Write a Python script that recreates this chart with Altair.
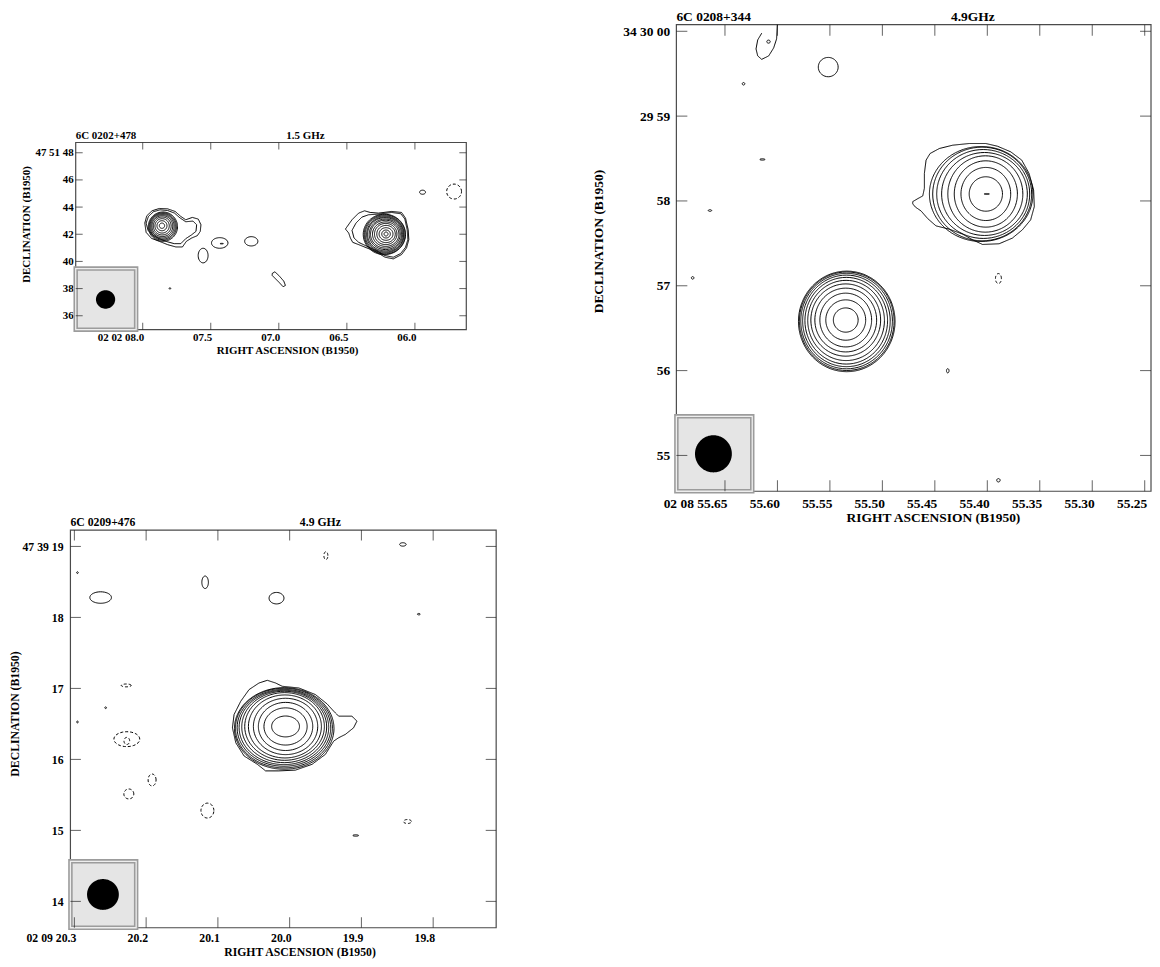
import math
import numpy as np
import pandas as pd
import altair as alt

FONT = "Liberation Serif"

# ======================= DATA =======================
# ---- Panel 1 : 6C 0202+478, 1.5 GHz  (RA = 02 02 ss.s, Dec = 47 51 ss) ----
P1_NAME, P1_FREQ = "6C 0202+478", "1.5 GHz"
P1_DEC0 = 47 + 51 / 60 + 42 / 3600
P1_RA_LIM = [5.6225, 8.4923]
P1_DEC_LIM = [34.974, 48.755]
P1_XTICKS = [8.0, 7.5, 7.0, 6.5, 6.0]
P1_XLABELS = ["02 02 08.0", "07.5", "07.0", "06.5", "06.0"]
P1_YTICKS = [36, 38, 40, 42, 44, 46, 48]
P1_YLABELS = ["36", "38", "40", "42", "44", "46", "47 51 48"]
P1_FREQ_RA = 6.8047

# eastern component
P1A_RA, P1A_DEC = 7.8585, 42.627
P1A_R = [0.195, 0.37, 0.53, 0.66, 0.77, 0.86, 0.94, 1.01, 1.08]
P1A_OX = [0, 0, 0.01, 0.02, 0.03, 0.04, 0.05, 0.06, 0.07]
P1A_OY = [0, 0, -0.01, -0.02, -0.03, -0.04, -0.05, -0.06, -0.07]
P1A_OUT1_DX = [-1.270, -1.123, -0.733, -0.195, 0.415, 0.977, 1.392, 1.758, 2.247, 2.686, 2.882,
               2.833, 2.613, 2.198, 1.807, 1.514, 1.026, 0.415, -0.195, -0.781, -1.172]
P1A_OUT1_DY = [0.195, 0.733, 1.099, 1.270, 1.245, 1.050, 0.684, 0.440, 0.611, 0.488, 0.073,
               -0.415, -0.733, -0.904, -1.148, -1.563, -1.563, -1.392, -1.148, -0.928, -0.488]
P1A_OUT2_DX = [-1.172, -1.001, -0.635, -0.147, 0.415, 0.928, 1.319, 1.758, 2.295, 2.564, 2.515,
               2.173, 1.758, 1.392, 0.904, 0.366, -0.195, -0.684, -1.026]
P1A_OUT2_DY = [0.195, 0.684, 1.026, 1.172, 1.123, 0.928, 0.586, 0.293, 0.342, 0.073, -0.415,
               -0.684, -0.952, -1.319, -1.319, -1.172, -0.952, -0.684, -0.342]
# western component
P1B_RA, P1B_DEC = 6.2122, 42.017
P1B_RX = [0.146, 0.317, 0.513, 0.684, 0.830, 0.977, 1.099, 1.197, 1.294, 1.368, 1.441, 1.514, 1.563]
P1B_RY = [0.146, 0.293, 0.464, 0.635, 0.781, 0.904, 1.026, 1.123, 1.221, 1.294, 1.368, 1.441, 1.490]
P1B_OX = [0, 0, 0, 0, -0.024, -0.024, -0.049, -0.049, -0.073, -0.073, -0.098, -0.098, -0.122]
P1B_OY = [0, 0, 0, 0, 0, -0.01, -0.01, -0.02, -0.02, -0.03, -0.03, -0.03, -0.03]
P1B_OUT1_DX = [-3.004, -2.515, -2.027, -1.587, -1.172, -0.562, 0.415, 1.148, 1.441, 1.636, 1.685,
               1.514, 1.148, 0.537, -0.073, -0.806, -1.416, -2.027, -2.466, -2.637, -2.759]
P1B_OUT1_DY = [0.366, 1.050, 1.538, 1.709, 1.587, 1.538, 1.661, 1.587, 1.172, 0.317, -0.415,
               -1.026, -1.514, -1.831, -1.709, -1.270, -1.026, -0.781, -0.611, -0.293, 0.073]
P1B_OUT2_DX = [-2.515, -2.222, -1.783, -1.294, -0.562, 0.415, 1.099, 1.392, 1.563, 1.612, 1.441,
               1.075, 0.537, -0.073, -0.757, -1.416, -2.027, -2.369]
P1B_OUT2_DY = [0.269, 0.806, 1.245, 1.416, 1.465, 1.587, 1.490, 1.099, 0.317, -0.415, -0.977,
               -1.441, -1.709, -1.587, -1.197, -0.904, -0.611, -0.293]
# knot
P1K_RA, P1K_DEC = 7.0, 38.672
P1K_DX = [-0.488, -0.293, 0.0, 0.366, 0.488, 0.317, 0.049, -0.293, -0.488]
P1K_DY = [0.440, 0.562, 0.293, -0.122, -0.440, -0.537, -0.244, 0.098, 0.293]
# small contours
P1_BLOB_RA = [7.5561, 7.4341, 7.4195, 7.2024, 7.8000, 5.9439, 5.7122]
P1_BLOB_DEC = [40.430, 41.358, 41.310, 41.480, 38.012, 45.094, 45.143]
P1_BLOB_RX = [0.366, 0.610, 0.12, 0.488, 0.06, 0.22, 0.55]
P1_BLOB_RY = [0.537, 0.391, 0.02, 0.342, 0.05, 0.15, 0.55]
P1_BLOB_DASH = ["solid", "solid", "solid", "solid", "solid", "solid", "dashed"]
# beam
P1_BOX = [8.0483, 8.4923, 34.974, 39.473]
P1_BEAM = [8.2729, 37.20, 0.71, 0.68]

# ---- Panel 2 : 6C 0208+344, 4.9 GHz  (RA = 02 08 ss.ss, Dec = 34 29 ss) ----
P2_NAME, P2_FREQ = "6C 0208+344", "4.9GHz"
P2_DEC0 = 34 + 29 / 60 + 58 / 3600
P2_RA_LIM = [55.2440, 55.6963]
P2_DEC_LIM = [54.5775, 60.0775]
P2_XTICKS = [55.65, 55.60, 55.55, 55.50, 55.45, 55.40, 55.35, 55.30, 55.25]
P2_XLABELS = ["02 08 55.65", "55.60", "55.55", "55.50", "55.45", "55.40", "55.35", "55.30", "55.25"]
P2_YTICKS = [55, 56, 57, 58, 59, 60]
P2_YLABELS = ["55", "56", "57", "58", "29 59", "34 30 00"]
P2_FREQ_RA = 55.4138

P2A_RA, P2A_DEC = 55.4014, 58.082
P2A_RX = [0.196, 0.293, 0.372, 0.442, 0.505, 0.548, 0.583, 0.610]
P2A_RY = [0.203, 0.313, 0.391, 0.450, 0.489, 0.524, 0.552, 0.560]
P2A_OX = [0, 0, 0, -0.006, -0.016, -0.031, -0.043, -0.055]
P2A_OY = [0, 0, 0, 0, 0, 0, 0, 0]
P2A_OUT_DX = [-0.861, -0.802, -0.743, -0.724, -0.724, -0.704, -0.657, -0.548, -0.391, -0.196, 0.0,
              0.137, 0.293, 0.423, 0.509, 0.563, 0.571, 0.528, 0.430, 0.313, 0.156, -0.039,
              -0.156, -0.274, -0.430, -0.587, -0.685, -0.763, -0.829, -0.861]
P2A_OUT_DY = [-0.090, -0.055, -0.023, 0.067, 0.243, 0.399, 0.477, 0.536, 0.575, 0.595, 0.595,
              0.563, 0.497, 0.399, 0.243, 0.047, -0.149, -0.305, -0.423, -0.520, -0.587, -0.595,
              -0.540, -0.473, -0.415, -0.376, -0.290, -0.200, -0.155, -0.117]
P2B_RA, P2B_DEC = 55.5349, 56.596
P2B_RX = [0.146, 0.235, 0.305, 0.364, 0.411, 0.452, 0.487, 0.516, 0.540, 0.558, 0.569]
P2B_RY = [0.143, 0.238, 0.317, 0.376, 0.426, 0.473, 0.511, 0.540, 0.563, 0.581, 0.593]
P2B_OX = [0, 0, 0, 0, 0, 0.004, 0.006, 0.008, 0.010, 0.012, 0.012]
P2B_OY = [0, 0, 0, 0, 0, -0.005, -0.008, -0.010, -0.012, -0.014, -0.016]
P2_ARC_RA = [55.6150, 55.6188, 55.6204, 55.6188, 55.6150, 55.6083, 55.6036, 55.6008, 55.6001]
P2_ARC_DEC = [59.977, 59.898, 59.792, 59.710, 59.669, 59.710, 59.804, 59.910, 60.077]
P2_BLOB_RA = [55.5516, 55.6085, 55.6323, 55.6143, 55.6643, 55.6808, 55.3894, 55.4377, 55.3894, 55.4005]
P2_BLOB_DEC = [59.578, 59.878, 59.381, 58.489, 57.887, 57.093, 57.085, 55.998, 54.707, 58.082]
P2_BLOB_RX = [0.117, 0.020, 0.015, 0.030, 0.020, 0.015, 0.035, 0.015, 0.020, 0.030]
P2_BLOB_RY = [0.114, 0.018, 0.015, 0.008, 0.010, 0.015, 0.059, 0.025, 0.020, 0.006]
P2_BLOB_DASH = ["solid"] * 6 + ["dashed"] + ["solid"] * 3
P2_BOX = [55.624, 55.6963, 54.5775, 55.461]
P2_BEAM = [55.661, 55.019, 0.217, 0.219]

# ---- Panel 3 : 6C 0209+476, 4.9 GHz  (RA = 02 09 ss.s, Dec = 47 39 ss) ----
P3_NAME, P3_FREQ = "6C 0209+476", "4.9 GHz"
P3_DEC0 = 47 + 39 / 60 + 16 / 3600
P3_RA_LIM = [19.7122, 20.3055]
P3_DEC_LIM = [13.6283, 19.230]
P3_XTICKS = [20.3, 20.2, 20.1, 20.0, 19.9, 19.8]
P3_XLABELS = ["02 09 20.3", "20.2", "20.1", "20.0", "19.9", "19.8"]
P3_YTICKS = [14, 15, 16, 17, 18, 19]
P3_YLABELS = ["14", "15", "16", "17", "18", "47 39 19"]
P3_FREQ_RA = 19.9572

P3A_RA, P3A_DEC = 20.0057, 16.464
P3A_RX = [0.196, 0.304, 0.383, 0.453, 0.514, 0.561, 0.598, 0.631, 0.659, 0.683, 0.701]
P3A_RY = [0.147, 0.262, 0.339, 0.397, 0.444, 0.477, 0.503, 0.524, 0.542, 0.561, 0.575]
P3A_OX = [0, 0, 0, 0, -0.009, -0.014, -0.019, -0.023, -0.023, -0.023, -0.019]
P3A_OY = [0, 0, 0, 0, 0, 0, -0.007, -0.014, -0.019, -0.023, -0.028]
P3A_OUT_DX = [-0.748, -0.725, -0.631, -0.514, -0.374, -0.257, -0.140, -0.047, 0.187, 0.421, 0.584,
              0.678, 0.748, 0.935, 1.005, 0.958, 0.842, 0.748, 0.678, 0.561, 0.374, 0.140, -0.094,
              -0.281, -0.397, -0.584, -0.701]
P3A_OUT_DY = [-0.019, 0.168, 0.355, 0.519, 0.612, 0.650, 0.612, 0.566, 0.542, 0.449, 0.318,
              0.215, 0.145, 0.145, 0.075, -0.019, -0.112, -0.159, -0.206, -0.393, -0.533, -0.615,
              -0.626, -0.626, -0.533, -0.416, -0.229]
P3_BLOB_RA = [20.2634, 20.1178, 20.0183, 19.8422, 19.9495, 20.2957, 20.2564, 20.2957, 19.8200,
              20.2277, 20.2269, 20.2269, 20.2241, 20.1917, 20.1146, 19.8358, 19.9079]
P3_BLOB_DEC = [18.280, 18.495, 18.271, 19.028, 18.870, 18.631, 16.728, 16.527, 18.046,
               17.042, 16.285, 16.260, 15.513, 15.710, 15.279, 15.125, 14.928]
P3_BLOB_RX = [0.152, 0.046, 0.105, 0.046, 0.028, 0.012, 0.012, 0.012, 0.020,
              0.070, 0.182, 0.040, 0.070, 0.056, 0.091, 0.056, 0.040]
P3_BLOB_RY = [0.081, 0.088, 0.081, 0.024, 0.056, 0.012, 0.012, 0.012, 0.010,
              0.020, 0.105, 0.050, 0.070, 0.084, 0.105, 0.028, 0.010]
P3_BLOB_DASH = ["solid"] * 4 + ["dashed"] + ["solid"] * 4 + ["dashed"] * 7 + ["solid"]
P3_BOX = [20.2139, 20.3055, 13.6283, 14.564]
P3_BEAM = [20.2602, 14.097, 0.224, 0.217]


# ======================= helpers to build mark tables =======================
def k_ra(dec0):
    # seconds of RA per arcsec of sky at this declination
    return 1.0 / (15.0 * math.cos(math.radians(dec0)))


def add_ring(rows, key, ra, dec, dec0, rx, ry, ox=0.0, oy=0.0, dash="solid", n=72):
    k = k_ra(dec0)
    for i in range(n + 1):
        t = 2 * math.pi * i / n
        rows.append({"ra": ra - (ox + rx * math.cos(t)) * k,
                     "dec": dec + oy + ry * math.sin(t),
                     "ring": key, "i": i, "dash": dash})


def add_poly(rows, key, ra, dec, dec0, dxs, dys, dash="solid"):
    k = k_ra(dec0)
    pts = list(zip(dxs, dys)) + [(dxs[0], dys[0])]
    for i, (dx, dy) in enumerate(pts):
        rows.append({"ra": ra - dx * k, "dec": dec + dy, "ring": key, "i": i, "dash": dash})


def add_path(rows, key, ras, decs, dash="solid"):
    for i, (r, d) in enumerate(zip(ras, decs)):
        rows.append({"ra": r, "dec": d, "ring": key, "i": i, "dash": dash})


def add_source(rows, key, ra, dec, dec0, rxs, rys, oxs, oys):
    for j, (rx, ry, ox, oy) in enumerate(zip(rxs, rys, oxs, oys)):
        add_ring(rows, f"{key}{j}", ra, dec, dec0, rx, ry, ox, oy)


def add_blobs(rows, key, dec0, ras, decs, rxs, rys, dashes):
    for j, (r, d, rx, ry, ds) in enumerate(zip(ras, decs, rxs, rys, dashes)):
        add_ring(rows, f"{key}{j}", r, d, dec0, rx, ry, dash=ds, n=36)


def beam_table(beam, dec0, n=60):
    ra, dec, rx, ry = beam
    k = k_ra(dec0)
    t = np.linspace(0, np.pi, n + 1)
    return pd.DataFrame({"ra": ra - rx * k * np.cos(t),
                         "lo": dec - ry * np.sin(t),
                         "hi": dec + ry * np.sin(t)})


def label_expr(values, labels):
    expr = "''"
    for v, lab in zip(values, labels):
        expr = f"abs(datum.value - {v}) < 1e-6 ? '{lab}' : ({expr})"
    return expr


# panel 1 contours
r1 = []
add_source(r1, "a", P1A_RA, P1A_DEC, P1_DEC0, P1A_R, P1A_R, P1A_OX, P1A_OY)
add_poly(r1, "ao1", P1A_RA, P1A_DEC, P1_DEC0, P1A_OUT1_DX, P1A_OUT1_DY)
add_poly(r1, "ao2", P1A_RA, P1A_DEC, P1_DEC0, P1A_OUT2_DX, P1A_OUT2_DY)
add_source(r1, "b", P1B_RA, P1B_DEC, P1_DEC0, P1B_RX, P1B_RY, P1B_OX, P1B_OY)
add_poly(r1, "bo1", P1B_RA, P1B_DEC, P1_DEC0, P1B_OUT1_DX, P1B_OUT1_DY)
add_poly(r1, "bo2", P1B_RA, P1B_DEC, P1_DEC0, P1B_OUT2_DX, P1B_OUT2_DY)
add_poly(r1, "k", P1K_RA, P1K_DEC, P1_DEC0, P1K_DX, P1K_DY)
add_blobs(r1, "s", P1_DEC0, P1_BLOB_RA, P1_BLOB_DEC, P1_BLOB_RX, P1_BLOB_RY, P1_BLOB_DASH)

# panel 2 contours
r2 = []
add_source(r2, "a", P2A_RA, P2A_DEC, P2_DEC0, P2A_RX, P2A_RY, P2A_OX, P2A_OY)
add_poly(r2, "ao", P2A_RA, P2A_DEC, P2_DEC0, P2A_OUT_DX, P2A_OUT_DY)
add_source(r2, "b", P2B_RA, P2B_DEC, P2_DEC0, P2B_RX, P2B_RY, P2B_OX, P2B_OY)
add_path(r2, "arc", P2_ARC_RA, P2_ARC_DEC)
add_blobs(r2, "s", P2_DEC0, P2_BLOB_RA, P2_BLOB_DEC, P2_BLOB_RX, P2_BLOB_RY, P2_BLOB_DASH)

# panel 3 contours
r3 = []
add_source(r3, "a", P3A_RA, P3A_DEC, P3_DEC0, P3A_RX, P3A_RY, P3A_OX, P3A_OY)
add_poly(r3, "ao", P3A_RA, P3A_DEC, P3_DEC0, P3A_OUT_DX, P3A_OUT_DY)
add_blobs(r3, "s", P3_DEC0, P3_BLOB_RA, P3_BLOB_DEC, P3_BLOB_RX, P3_BLOB_RY, P3_BLOB_DASH)

# ======================= layout / style (pixels) =======================
W, H = 1149, 948

PANELS = [
    dict(name=P1_NAME, freq=P1_FREQ, freq_ra=P1_FREQ_RA, ra_lim=P1_RA_LIM, dec_lim=P1_DEC_LIM,
         xt=P1_XTICKS, xl=P1_XLABELS, yt=P1_YTICKS, yl=P1_YLABELS, rows=r1, box=P1_BOX,
         beam=P1_BEAM, dec0=P1_DEC0,
         xrange=[460.3, 68.0], yrange=[319.0, 131.0], fs=11, tick=7,
         xoff=-629, yoff=-68, xlp=11.3, ylp=2.5, xlo=1.0,
         xtx=280.3, xty=23.8, ytx=-49.3, yty=212.8, tdy=-3.7),
    dict(name=P2_NAME, freq=P2_FREQ, freq_ra=P2_FREQ_RA, ra_lim=P2_RA_LIM, dec_lim=P2_DEC_LIM,
         xt=P2_XTICKS, xl=P2_XLABELS, yt=P2_YTICKS, yl=P2_YLABELS, rows=r2, box=P2_BOX,
         beam=P2_BEAM, dec0=P2_DEC0,
         xrange=[1148.0, 671.3], yrange=[481.3, 12.7], fs=13.5, tick=11,
         xoff=-466.7, yoff=-671.3, xlp=16.2, ylp=6.6, xlo=2.0,
         xtx=929.0, xty=30.5, ytx=-78.3, yty=230.0, tdy=-3.4),
    dict(name=P3_NAME, freq=P3_FREQ, freq_ra=P3_FREQ_RA, ra_lim=P3_RA_LIM, dec_lim=P3_DEC_LIM,
         xt=P3_XTICKS, xl=P3_XLABELS, yt=P3_YTICKS, yl=P3_YLABELS, rows=r3, box=P3_BOX,
         beam=P3_BEAM, dec0=P3_DEC0,
         xrange=[490.3, 62.7], yrange=[919.7, 520.3], fs=11.8, tick=10.5,
         xoff=-28.3, yoff=-62.7, xlp=14.0, ylp=7.4, xlo=1.5,
         xtx=292.8, xty=27.5, ytx=-55.7, yty=704.5, tdy=-4.3),
]

DASH_SCALE = alt.Scale(domain=["solid", "dashed"], range=[[1, 0], [3, 2]])


def build_panel(p):
    xs = alt.Scale(domain=p["ra_lim"], range=p["xrange"], zero=False, nice=False)
    ys = alt.Scale(domain=p["dec_lim"], range=p["yrange"], zero=False, nice=False)
    common = dict(ticks=False, tickSize=0, domain=False, grid=False,
                  labelFont=FONT, labelFontWeight="bold", labelFontSize=p["fs"], labelColor="black",
                  labelFlush=False, labelOverlap=False, labelBound=False,
                  titleFont=FONT, titleFontWeight="bold", titleFontSize=p["fs"], titleColor="black",
                  titleAlign="center")
    xaxis = alt.Axis(orient="bottom", offset=p["xoff"], values=p["xt"],
                     labelExpr=label_expr(p["xt"], p["xl"]), labelAlign="right",
                     labelBaseline="alphabetic", labelPadding=p["xlp"], labelOffset=p["xlo"],
                     title="RIGHT ASCENSION (B1950)", titleX=p["xtx"], titleY=p["xty"],
                     titleBaseline="alphabetic", **common)
    yaxis = alt.Axis(orient="left", offset=p["yoff"], values=p["yt"],
                     labelExpr=label_expr(p["yt"], p["yl"]), labelAlign="right",
                     labelBaseline="middle", labelPadding=p["ylp"],
                     title="DECLINATION (B1950)", titleX=p["ytx"], titleY=p["yty"],
                     titleAngle=270, titleBaseline="middle", **common)

    def X(f):
        return alt.X(f, type="quantitative", scale=xs, axis=xaxis)

    def Y(f):
        return alt.Y(f, type="quantitative", scale=ys, axis=yaxis)

    ra0, ra1 = p["ra_lim"]
    d0, d1 = p["dec_lim"]
    frame_df = pd.DataFrame([{"x0": ra0, "x1": ra1, "y0": d0, "y1": d1}])
    frame = alt.Chart(frame_df).mark_rect(fillOpacity=0, stroke="#4a4a4a", strokeWidth=1.2).encode(
        x=X("x0"), x2="x1", y=Y("y0"), y2="y1")

    b = p["box"]
    box_df = pd.DataFrame([{"x0": b[0], "x1": b[1], "y0": b[2], "y1": b[3]}])
    box = alt.Chart(box_df).mark_rect(fill="#e5e5e5", stroke="#9c9c9c", strokeWidth=4.5).encode(
        x=X("x0"), x2="x1", y=Y("y0"), y2="y1")
    box_in = alt.Chart(box_df).mark_rect(fillOpacity=0, stroke="#eeeeee", strokeWidth=1.3).encode(
        x=X("x0"), x2="x1", y=Y("y0"), y2="y1")

    L = p["tick"]
    xt_top = pd.DataFrame({"x": p["xt"], "y": [d1] * len(p["xt"])})
    xt_bot = pd.DataFrame({"x": p["xt"], "y": [d0] * len(p["xt"])})
    yt_left = pd.DataFrame({"x": [ra1] * len(p["yt"]), "y": p["yt"]})
    yt_right = pd.DataFrame({"x": [ra0] * len(p["yt"]), "y": p["yt"]})
    tk = dict(color="#222222", thickness=1, size=L)
    t_top = alt.Chart(xt_top).mark_tick(orient="vertical", yOffset=L / 2, **tk).encode(x=X("x"), y=Y("y"))
    t_bot = alt.Chart(xt_bot).mark_tick(orient="vertical", yOffset=-L / 2, **tk).encode(x=X("x"), y=Y("y"))
    t_left = alt.Chart(yt_left).mark_tick(orient="horizontal", xOffset=L / 2, **tk).encode(x=X("x"), y=Y("y"))
    t_right = alt.Chart(yt_right).mark_tick(orient="horizontal", xOffset=-L / 2, **tk).encode(x=X("x"), y=Y("y"))

    cont = alt.Chart(pd.DataFrame(p["rows"])).mark_line(color="black", strokeWidth=1.0).encode(
        x=X("ra"), y=Y("dec"), detail="ring:N", order="i:Q",
        strokeDash=alt.StrokeDash("dash:N", scale=DASH_SCALE, legend=None))

    beam = alt.Chart(beam_table(p["beam"], p["dec0"])).mark_area(color="black", orient="vertical").encode(
        x=X("ra"), y=Y("lo"), y2="hi")

    txt_df = pd.DataFrame([{"ra": ra1, "dec": d1, "t": p["name"]},
                           {"ra": p["freq_ra"], "dec": d1, "t": p["freq"]}])
    t_name = alt.Chart(txt_df.iloc[[0]]).mark_text(
        align="left", baseline="alphabetic", dy=p["tdy"], font=FONT, fontWeight="bold",
        fontSize=p["fs"], color="black").encode(x=X("ra"), y=Y("dec"), text="t:N")
    t_freq = alt.Chart(txt_df.iloc[[1]]).mark_text(
        align="center", baseline="alphabetic", dy=p["tdy"], font=FONT, fontWeight="bold",
        fontSize=p["fs"], color="black").encode(x=X("ra"), y=Y("dec"), text="t:N")

    return alt.layer(frame, box, box_in, t_top, t_bot, t_left, t_right, cont, beam, t_name, t_freq)


chart = alt.layer(*[build_panel(p) for p in PANELS]).resolve_scale(
    x="independent", y="independent"
).properties(
    width=W, height=H, padding=0, background="white"
).configure_view(stroke=None)

chart.save("out.html", embed_options={"renderer": "svg", "actions": False})
